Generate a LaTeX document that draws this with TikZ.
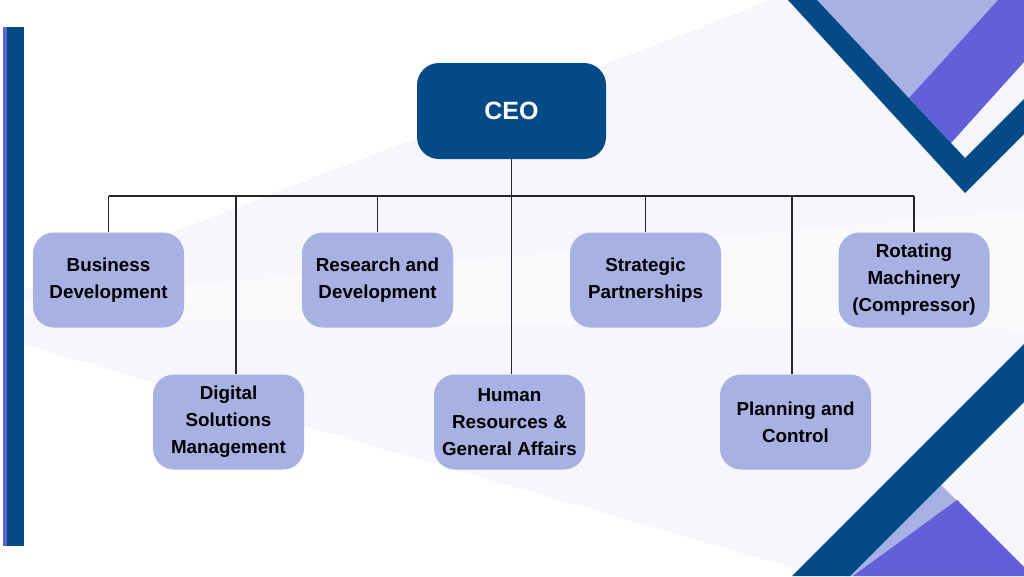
\documentclass[tikz,border=0pt]{standalone}
\usepackage{fontspec}
\setmainfont{Liberation Sans}
\definecolor{navy}{HTML}{034A87}
\definecolor{lilac}{HTML}{A7B1E3}
\definecolor{violet}{HTML}{6260D9}
\definecolor{haze}{HTML}{F6F6FC}
\definecolor{linec}{HTML}{25252D}
\tikzset{
  unitbox/.style={draw=none, fill=lilac, rounded corners=21pt, minimum width=151pt, minimum height=95pt,
    inner sep=0pt, align=center, font=\fontsize{18.8}{27}\selectfont\bfseries, text=black},
  ceobox/.style={draw=none, fill=navy, rounded corners=22pt, minimum width=189pt, minimum height=96pt,
    inner sep=0pt, align=center, font=\fontsize{25}{30}\selectfont\bfseries, text=white},
  link/.style={draw=linec, line width=1.3pt}
}
\begin{document}
\begin{tikzpicture}[x=1pt,y=-1pt]
\useasboundingbox (0,0) rectangle (1024,576);
\clip (0,0) rectangle (1024,576);
% background
\fill[white] (0,0) rectangle (1024,576);
\fill[haze] (24,0) rectangle (1024,576);
\fill[white] (24,0) -- (770,0) -- (24,290) -- cycle;
\fill[white] (24,576) -- (24,345) -- (820,576) -- cycle;
\fill[white!40!haze] (24,300) -- (1024,210) -- (1024,330) -- (24,318) -- cycle;
% left bar
\fill[violet] (3,27) rectangle (8,546);
\fill[navy] (7,27) rectangle (24,546);
% top-right decoration
\fill[lilac] (817,0) -- (998,0) -- (909,98) -- cycle;
\fill[violet] (909,98) -- (998,0) -- (1024,0) -- (1024,62) -- (951,143) -- cycle;
\fill[navy] (788,0) -- (965,193) -- (1024,134) -- (1024,99) -- (965,158) -- (817,0) -- cycle;
% bottom-right decoration
\fill[lilac] (846,576) -- (940,484) -- (1032,576) -- cycle;
\fill[violet] (853,576) -- (957,500) -- (1033,576) -- cycle;
\fill[navy] (792,576) -- (1024,344) -- (1024,402) -- (850,576) -- cycle;
% nodes
\node[ceobox] (ceo) at (511.5,111) {CEO};
\node[unitbox] (bd) at (108.5,280) {Business\\Development};
\node[unitbox] (rd) at (377.5,280) {Research and\\Development};
\node[unitbox] (sp) at (645.5,280) {Strategic\\Partnerships};
\node[unitbox] (rm) at (914,280) {Rotating\\Machinery\\(Compressor)};
\node[unitbox] (dsm) at (228.5,422) {Digital\\Solutions\\Management};
\node[unitbox] (hr) at (509.5,422) {Human\\Resources \&\\General Affairs};
\node[unitbox] (pc) at (795.5,422) {Planning and\\Control};
% connectors
\coordinate (busl) at (108.5,196);
\coordinate (busr) at (914,196);
\draw[link] (busl) -- (busr);
\draw[link] (ceo.south) -- (ceo.south |- hr.north);
\draw[link] (bd.north) -- (bd.north |- busl);
\draw[link] (rd.north) -- (rd.north |- busl);
\draw[link] (sp.north) -- (sp.north |- busl);
\draw[link] (rm.north) -- (rm.north |- busl);
\draw[link] ([xshift=7.5pt]dsm.north) -- ([xshift=7.5pt]dsm.north |- busl);
\draw[link] ([xshift=-3.5pt]pc.north) -- ([xshift=-3.5pt]pc.north |- busl);
\end{tikzpicture}
\end{document}
